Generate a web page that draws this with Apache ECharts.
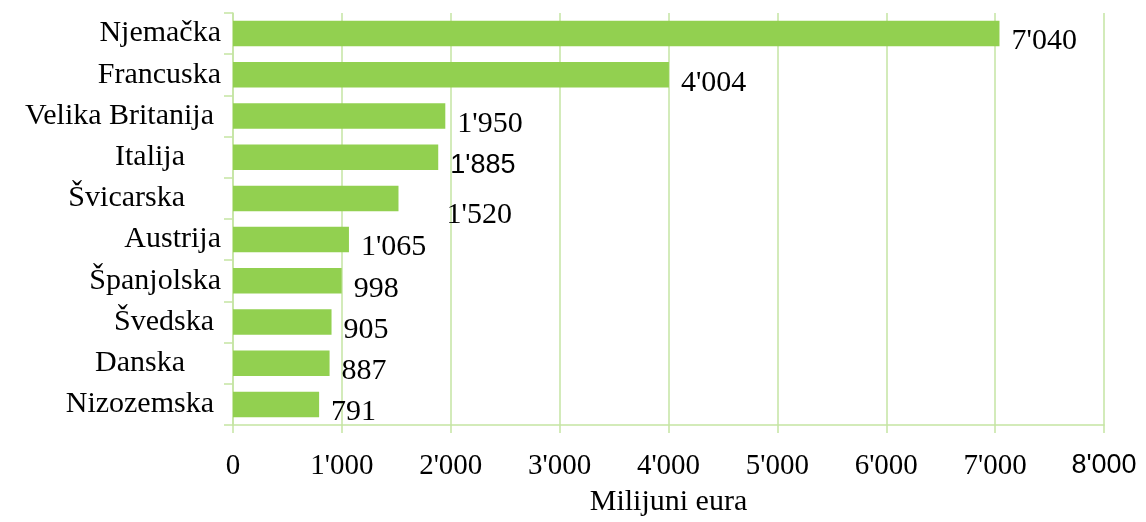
<!DOCTYPE html>
<html>
<head>
<meta charset="utf-8">
<script src="https://cdn.jsdelivr.net/npm/echarts@6/dist/echarts.min.js"></script>
<style>
html, body { margin: 0; padding: 0; background: #fff; }
#chart { width: 1146px; height: 522px; }
</style>
</head>
<body>
<div id="chart"></div>
<script>
// zemlje (odozgo prema dolje)
const categories = ['Njemačka', 'Francuska', 'Velika Britanija', 'Italija', 'Švicarska',
    'Austrija', 'Španjolska', 'Švedska', 'Danska', 'Nizozemska'];
// vrijednosti u milijunima eura
const values = [7040, 4004, 1950, 1885, 1520, 1065, 998, 905, 887, 791];
// x os
const axisMin = 0;
const axisMax = 8000;
const axisStep = 1000;
const axisTitle = 'Milijuni eura';

const barColor = '#92d050';
const lineColor = '#c5e5a3';
const serif = '"Liberation Serif", "DejaVu Serif", serif';
const sans = '"Liberation Sans", "DejaVu Sans", sans-serif';

// 7040 -> 7'040
const fmt = v => String(v).replace(/\B(?=(\d{3})+(?!\d))/g, "'");

// posebni stilovi oznaka
const labelStyles = {
    'Italija': { fontFamily: sans, fontSize: 27 },
    'Švicarska': { distance: 48, offset: [0, 17] }
};
// neki nazivi u originalu imaju razmak na kraju
const namePad = {
    'Velika Britanija': 'w', 'Italija': 'l', 'Švicarska': 'l',
    'Švedska': 'w', 'Danska': 'l', 'Nizozemska': 'w'
};

const chart = echarts.init(document.getElementById('chart'));
chart.setOption({
    animation: false,
    grid: { left: 233, right: 42, top: 13, bottom: 92 },
    xAxis: {
        type: 'value',
        min: axisMin,
        max: axisMax,
        interval: axisStep,
        name: axisTitle,
        nameLocation: 'middle',
        nameGap: 62,
        nameTextStyle: { fontSize: 30, color: '#000', fontFamily: serif },
        axisLine: { show: true, lineStyle: { color: lineColor, width: 1.5 } },
        axisTick: { show: true, length: 8, lineStyle: { color: lineColor, width: 1.5 } },
        splitLine: { show: true, lineStyle: { color: lineColor, width: 1.5 } },
        axisLabel: {
            margin: 27,
            color: '#000',
            fontSize: 29,
            fontFamily: serif,
            formatter: v => v === axisMax ? '{s|' + fmt(v) + '}' : fmt(v),
            rich: { s: { fontFamily: sans, fontSize: 27, color: '#000' } }
        }
    },
    yAxis: {
        type: 'category',
        inverse: true,
        data: categories,
        axisLine: { show: true, lineStyle: { color: lineColor, width: 1.5 } },
        axisTick: { show: true, length: 9, lineStyle: { color: lineColor, width: 1.5 } },
        axisLabel: {
            margin: 12,
            color: '#000',
            fontSize: 30,
            fontFamily: serif,
            formatter: v => namePad[v] ? '{' + namePad[v] + '|' + v + '}' : v,
            rich: {
                w: { fontSize: 30, fontFamily: serif, color: '#000', padding: [0, 7, 0, 0] },
                l: { fontSize: 30, fontFamily: serif, color: '#000', padding: [0, 36, 0, 0] }
            }
        }
    },
    series: [{
        type: 'bar',
        barCategoryGap: '38%',
        itemStyle: { color: barColor },
        label: {
            show: true,
            position: 'right',
            distance: 12,
            offset: [0, 8],
            color: '#000',
            fontSize: 30,
            fontFamily: serif,
            formatter: p => fmt(p.value)
        },
        data: values.map((v, i) => {
            const item = { value: v };
            if (labelStyles[categories[i]]) item.label = labelStyles[categories[i]];
            return item;
        })
    }]
});
</script>
</body>
</html>
